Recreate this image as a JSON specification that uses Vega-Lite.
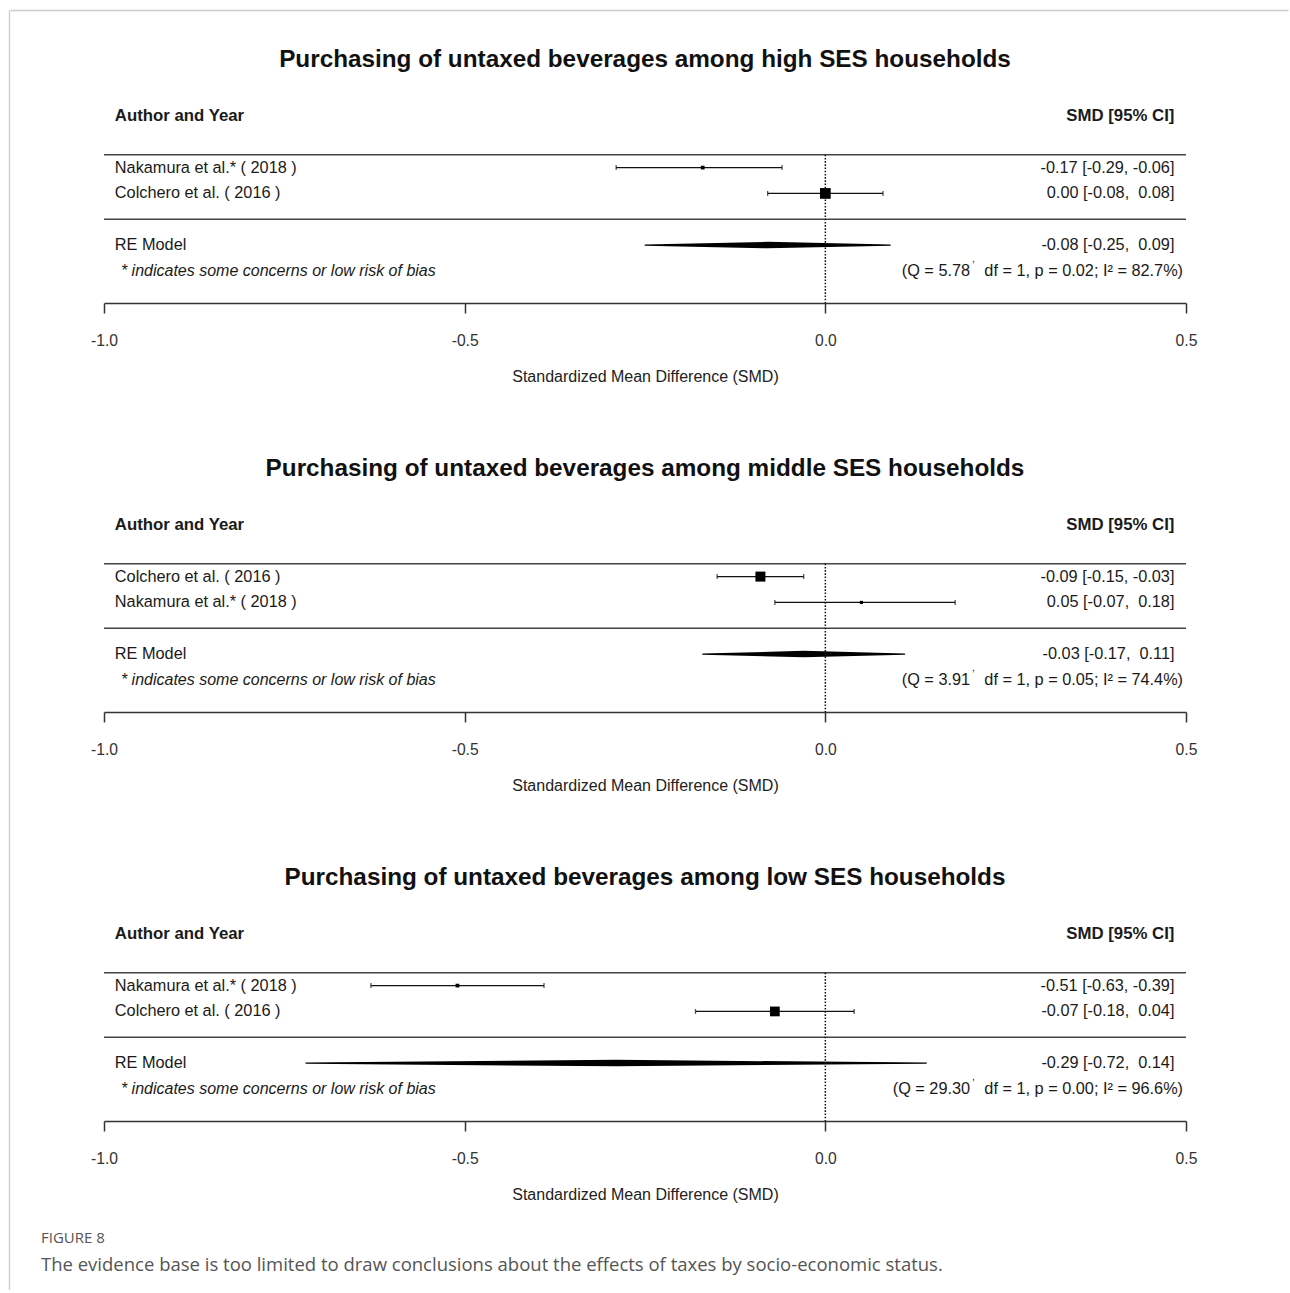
{
  "$schema": "https://vega.github.io/schema/vega-lite/v6.json",
  "padding": {"left": 9, "top": 10, "right": 0, "bottom": 0},
  "background": "white",
  "datasets": {
    "labels": [
      {"author_head": "Author and Year", "ci_head": "SMD [95% CI]", "note": "* indicates some concerns or low risk of bias"}
    ],
    "high": [
      {"kind": "study", "author": "Nakamura", "label": "Nakamura et al.* ( 2018 )", "smd": -0.17, "lo": -0.29, "hi": -0.06, "ci": "-0.17 [-0.29, -0.06]"},
      {"kind": "study", "author": "Colchero", "label": "Colchero et al. ( 2016 )", "smd": 0.00, "lo": -0.08, "hi": 0.08, "ci": "0.00 [-0.08,\u00a0 0.08]"},
      {"kind": "pooled", "author": "RE", "label": "RE Model", "smd": -0.08, "lo": -0.25, "hi": 0.09, "ci": "-0.08 [-0.25,\u00a0 0.09]", "q": "(Q = 5.78", "het": "df = 1, p = 0.02; I² = 82.7%)"}
    ],
    "middle": [
      {"kind": "study", "author": "Colchero", "label": "Colchero et al. ( 2016 )", "smd": -0.09, "lo": -0.15, "hi": -0.03, "ci": "-0.09 [-0.15, -0.03]"},
      {"kind": "study", "author": "Nakamura", "label": "Nakamura et al.* ( 2018 )", "smd": 0.05, "lo": -0.07, "hi": 0.18, "ci": "0.05 [-0.07,\u00a0 0.18]"},
      {"kind": "pooled", "author": "RE", "label": "RE Model", "smd": -0.03, "lo": -0.17, "hi": 0.11, "ci": "-0.03 [-0.17,\u00a0 0.11]", "q": "(Q = 3.91", "het": "df = 1, p = 0.05; I² = 74.4%)"}
    ],
    "low": [
      {"kind": "study", "author": "Nakamura", "label": "Nakamura et al.* ( 2018 )", "smd": -0.51, "lo": -0.63, "hi": -0.39, "ci": "-0.51 [-0.63, -0.39]"},
      {"kind": "study", "author": "Colchero", "label": "Colchero et al. ( 2016 )", "smd": -0.07, "lo": -0.18, "hi": 0.04, "ci": "-0.07 [-0.18,\u00a0 0.04]"},
      {"kind": "pooled", "author": "RE", "label": "RE Model", "smd": -0.29, "lo": -0.72, "hi": 0.14, "ci": "-0.29 [-0.72,\u00a0 0.14]", "q": "(Q = 29.30", "het": "df = 1, p = 0.00; I² = 96.6%)"}
    ]
  },
  "hconcat": [
    {
      "width": 1,
      "height": 1280,
      "data": {"name": "labels"},
      "mark": {"type": "point", "opacity": 0, "size": 0},
      "encoding": {
        "y": {"datum": 0, "type": "quantitative", "axis": {"orient": "left", "domainColor": "#cccccc", "domainWidth": 1.3, "ticks": false, "labels": false, "grid": false, "title": null}}
      }
    },
    {
      "spacing": 36,
      "vconcat": [
        {
          "width": 1100,
          "height": 1,
          "data": {"name": "labels"},
          "mark": {"type": "point", "opacity": 0, "size": 0},
          "encoding": {
            "x": {"datum": 0, "type": "quantitative", "scale": {"domain": [0, 1], "range": [-94, 1184]}, "axis": {"orient": "top", "domainColor": "#cccccc", "domainWidth": 1.3, "ticks": false, "labels": false, "grid": false, "title": null}}
          }
        },
        {
          "spacing": 71,
          "title": {
            "text": "FIGURE 8",
            "subtitle": "The evidence base is too limited to draw conclusions about the effects of taxes by socio-economic status.",
            "orient": "bottom", "anchor": "start", "frame": "bounds", "dx": 31, "offset": 28,
            "font": "Open Sans", "fontSize": 15, "fontWeight": "normal", "color": "#555555",
            "subtitleFont": "Open Sans", "subtitleFontSize": 18.5, "subtitleColor": "#555555", "subtitlePadding": 10
          },
          "vconcat": [
            {
              "width": 1082,
              "height": 200,
              "title": "Purchasing of untaxed beverages among high SES households",
              "data": {"name": "high"},
              "encoding": {
                "y": {
                  "field": "label", "type": "nominal", "title": null,
                  "scale": {"type": "band", "domain": ["header", "gap1", "Nakamura et al.* ( 2018 )", "Colchero et al. ( 2016 )", "gap2", "RE Model", "note"], "paddingInner": 0, "paddingOuter": 0.37, "align": 0, "round": false},
                  "axis": {"labels": false, "ticks": false, "domain": false, "grid": false, "minExtent": 94, "maxExtent": 94}
                }
              },
              "layer": [
                {"data": {"name": "labels"}, "mark": {"type": "rule", "stroke": "#444444", "strokeWidth": 1.6},
                 "encoding": {
                   "x": {"datum": -1, "type": "quantitative", "title": "Standardized Mean Difference (SMD)", "scale": {"domain": [-1, 0.5], "nice": false, "zero": false},
                         "axis": {"values": [-1, -0.5, 0, 0.5], "format": ".1f", "tickSize": 10, "tickColor": "#333333", "tickWidth": 1.5, "domainColor": "#333333", "domainWidth": 1.5, "labelFontSize": 15.7, "labelColor": "#333333", "labelPadding": 20, "labelFlush": false, "titleFontSize": 16, "titleFontWeight": "normal", "titleColor": "#222222", "titlePadding": 21, "grid": false}},
                   "x2": {"datum": 0.5},
                   "y": {"datum": "gap1", "type": "nominal", "bandPosition": 1, "title": null}}},
                {"data": {"name": "labels"}, "mark": {"type": "rule", "stroke": "#444444", "strokeWidth": 1.6},
                 "encoding": {"x": {"datum": -1, "type": "quantitative", "title": "Standardized Mean Difference (SMD)"}, "x2": {"datum": 0.5}, "y": {"datum": "gap2", "type": "nominal", "title": null}}},
                {"data": {"name": "labels"}, "mark": {"type": "rule", "stroke": "#111111", "strokeWidth": 1.5, "strokeDash": [1.6, 1.6]},
                 "encoding": {"x": {"datum": 0, "type": "quantitative", "title": "Standardized Mean Difference (SMD)"}, "y": {"datum": "gap1", "type": "nominal", "bandPosition": 1, "title": null}, "y2": {"value": "height"}}},
                {"data": {"name": "labels"}, "mark": {"type": "text", "align": "left", "fontWeight": "bold", "fontSize": 16.8},
                 "encoding": {"x": {"datum": -0.985, "type": "quantitative", "title": "Standardized Mean Difference (SMD)"}, "y": {"datum": "header", "type": "nominal", "title": null}, "text": {"field": "author_head"}}},
                {"data": {"name": "labels"}, "mark": {"type": "text", "align": "right", "fontWeight": "bold", "fontSize": 16.8},
                 "encoding": {"x": {"datum": 0.484, "type": "quantitative", "title": "Standardized Mean Difference (SMD)"}, "y": {"datum": "header", "type": "nominal", "title": null}, "text": {"field": "ci_head"}}},
                {"data": {"name": "labels"}, "mark": {"type": "text", "align": "left", "fontStyle": "italic", "fontSize": 16},
                 "encoding": {"x": {"datum": -0.9765, "type": "quantitative", "title": "Standardized Mean Difference (SMD)"}, "y": {"datum": "note", "type": "nominal", "title": null}, "text": {"field": "note"}}},
                {"transform": [{"filter": "datum.kind === 'study'"}], "mark": {"type": "rule", "stroke": "#111111", "strokeWidth": 1.3},
                 "encoding": {"x": {"field": "lo", "type": "quantitative", "title": "Standardized Mean Difference (SMD)"}, "x2": {"field": "hi"}}},
                {"transform": [{"filter": "datum.kind === 'study'"}, {"fold": ["lo", "hi"], "as": ["end", "value"]}], "mark": {"type": "tick", "orient": "vertical", "size": 5, "thickness": 1.3, "color": "#111111"},
                 "encoding": {"x": {"field": "value", "type": "quantitative", "title": "Standardized Mean Difference (SMD)"}}},
                {"transform": [{"filter": "datum.kind === 'study'"}], "mark": {"type": "point", "shape": "square", "filled": true, "color": "#000000", "opacity": 1},
                 "encoding": {"x": {"field": "smd", "type": "quantitative", "title": "Standardized Mean Difference (SMD)"}, "size": {"condition": {"test": "datum.author === 'Colchero'", "value": 115}, "value": 14}}},
                {"mark": {"type": "text", "align": "left"},
                 "encoding": {"x": {"datum": -0.985, "type": "quantitative", "title": "Standardized Mean Difference (SMD)"}, "text": {"field": "label"}}},
                {"mark": {"type": "text", "align": "right"},
                 "encoding": {"x": {"datum": 0.484, "type": "quantitative", "title": "Standardized Mean Difference (SMD)"}, "text": {"field": "ci"}}},
                {"transform": [{"filter": "datum.kind === 'pooled'"}, {"fold": ["lo", "smd", "hi"], "as": ["end", "value"]}], "mark": {"type": "trail", "color": "#000000"},
                 "encoding": {"x": {"field": "value", "type": "quantitative", "title": "Standardized Mean Difference (SMD)"}, "order": {"field": "value"}, "size": {"condition": {"test": "datum.end === 'smd'", "value": 6.5}, "value": 1.2}}},
                {"transform": [{"filter": "datum.kind === 'pooled'"}], "mark": {"type": "text", "align": "right"},
                 "encoding": {"x": {"datum": 0.2007, "type": "quantitative", "title": "Standardized Mean Difference (SMD)"}, "y": {"datum": "note", "type": "nominal", "title": null}, "text": {"field": "q"}}},
                {"transform": [{"filter": "datum.kind === 'pooled'"}], "mark": {"type": "text", "align": "left", "fontSize": 10, "dx": 2, "dy": -12},
                 "encoding": {"x": {"datum": 0.2007, "type": "quantitative", "title": "Standardized Mean Difference (SMD)"}, "y": {"datum": "note", "type": "nominal", "title": null}, "text": {"value": ","}}},
                {"transform": [{"filter": "datum.kind === 'pooled'"}], "mark": {"type": "text", "align": "right"},
                 "encoding": {"x": {"datum": 0.4959, "type": "quantitative", "title": "Standardized Mean Difference (SMD)"}, "y": {"datum": "note", "type": "nominal", "title": null}, "text": {"field": "het"}}}
              ]
            },
            {
              "width": 1082,
              "height": 200,
              "title": "Purchasing of untaxed beverages among middle SES households",
              "data": {"name": "middle"},
              "encoding": {
                "y": {
                  "field": "label", "type": "nominal", "title": null,
                  "scale": {"type": "band", "domain": ["header", "gap1", "Colchero et al. ( 2016 )", "Nakamura et al.* ( 2018 )", "gap2", "RE Model", "note"], "paddingInner": 0, "paddingOuter": 0.37, "align": 0, "round": false},
                  "axis": {"labels": false, "ticks": false, "domain": false, "grid": false, "minExtent": 94, "maxExtent": 94}
                }
              },
              "layer": [
                {"data": {"name": "labels"}, "mark": {"type": "rule", "stroke": "#444444", "strokeWidth": 1.6},
                 "encoding": {
                   "x": {"datum": -1, "type": "quantitative", "title": "Standardized Mean Difference (SMD)", "scale": {"domain": [-1, 0.5], "nice": false, "zero": false},
                         "axis": {"values": [-1, -0.5, 0, 0.5], "format": ".1f", "tickSize": 10, "tickColor": "#333333", "tickWidth": 1.5, "domainColor": "#333333", "domainWidth": 1.5, "labelFontSize": 15.7, "labelColor": "#333333", "labelPadding": 20, "labelFlush": false, "titleFontSize": 16, "titleFontWeight": "normal", "titleColor": "#222222", "titlePadding": 21, "grid": false}},
                   "x2": {"datum": 0.5},
                   "y": {"datum": "gap1", "type": "nominal", "bandPosition": 1, "title": null}}},
                {"data": {"name": "labels"}, "mark": {"type": "rule", "stroke": "#444444", "strokeWidth": 1.6},
                 "encoding": {"x": {"datum": -1, "type": "quantitative", "title": "Standardized Mean Difference (SMD)"}, "x2": {"datum": 0.5}, "y": {"datum": "gap2", "type": "nominal", "title": null}}},
                {"data": {"name": "labels"}, "mark": {"type": "rule", "stroke": "#111111", "strokeWidth": 1.5, "strokeDash": [1.6, 1.6]},
                 "encoding": {"x": {"datum": 0, "type": "quantitative", "title": "Standardized Mean Difference (SMD)"}, "y": {"datum": "gap1", "type": "nominal", "bandPosition": 1, "title": null}, "y2": {"value": "height"}}},
                {"data": {"name": "labels"}, "mark": {"type": "text", "align": "left", "fontWeight": "bold", "fontSize": 16.8},
                 "encoding": {"x": {"datum": -0.985, "type": "quantitative", "title": "Standardized Mean Difference (SMD)"}, "y": {"datum": "header", "type": "nominal", "title": null}, "text": {"field": "author_head"}}},
                {"data": {"name": "labels"}, "mark": {"type": "text", "align": "right", "fontWeight": "bold", "fontSize": 16.8},
                 "encoding": {"x": {"datum": 0.484, "type": "quantitative", "title": "Standardized Mean Difference (SMD)"}, "y": {"datum": "header", "type": "nominal", "title": null}, "text": {"field": "ci_head"}}},
                {"data": {"name": "labels"}, "mark": {"type": "text", "align": "left", "fontStyle": "italic", "fontSize": 16},
                 "encoding": {"x": {"datum": -0.9765, "type": "quantitative", "title": "Standardized Mean Difference (SMD)"}, "y": {"datum": "note", "type": "nominal", "title": null}, "text": {"field": "note"}}},
                {"transform": [{"filter": "datum.kind === 'study'"}], "mark": {"type": "rule", "stroke": "#111111", "strokeWidth": 1.3},
                 "encoding": {"x": {"field": "lo", "type": "quantitative", "title": "Standardized Mean Difference (SMD)"}, "x2": {"field": "hi"}}},
                {"transform": [{"filter": "datum.kind === 'study'"}, {"fold": ["lo", "hi"], "as": ["end", "value"]}], "mark": {"type": "tick", "orient": "vertical", "size": 5, "thickness": 1.3, "color": "#111111"},
                 "encoding": {"x": {"field": "value", "type": "quantitative", "title": "Standardized Mean Difference (SMD)"}}},
                {"transform": [{"filter": "datum.kind === 'study'"}], "mark": {"type": "point", "shape": "square", "filled": true, "color": "#000000", "opacity": 1},
                 "encoding": {"x": {"field": "smd", "type": "quantitative", "title": "Standardized Mean Difference (SMD)"}, "size": {"condition": {"test": "datum.author === 'Colchero'", "value": 100}, "value": 10}}},
                {"mark": {"type": "text", "align": "left"},
                 "encoding": {"x": {"datum": -0.985, "type": "quantitative", "title": "Standardized Mean Difference (SMD)"}, "text": {"field": "label"}}},
                {"mark": {"type": "text", "align": "right"},
                 "encoding": {"x": {"datum": 0.484, "type": "quantitative", "title": "Standardized Mean Difference (SMD)"}, "text": {"field": "ci"}}},
                {"transform": [{"filter": "datum.kind === 'pooled'"}, {"fold": ["lo", "smd", "hi"], "as": ["end", "value"]}], "mark": {"type": "trail", "color": "#000000"},
                 "encoding": {"x": {"field": "value", "type": "quantitative", "title": "Standardized Mean Difference (SMD)"}, "order": {"field": "value"}, "size": {"condition": {"test": "datum.end === 'smd'", "value": 6.5}, "value": 1.2}}},
                {"transform": [{"filter": "datum.kind === 'pooled'"}], "mark": {"type": "text", "align": "right"},
                 "encoding": {"x": {"datum": 0.2007, "type": "quantitative", "title": "Standardized Mean Difference (SMD)"}, "y": {"datum": "note", "type": "nominal", "title": null}, "text": {"field": "q"}}},
                {"transform": [{"filter": "datum.kind === 'pooled'"}], "mark": {"type": "text", "align": "left", "fontSize": 10, "dx": 2, "dy": -12},
                 "encoding": {"x": {"datum": 0.2007, "type": "quantitative", "title": "Standardized Mean Difference (SMD)"}, "y": {"datum": "note", "type": "nominal", "title": null}, "text": {"value": ","}}},
                {"transform": [{"filter": "datum.kind === 'pooled'"}], "mark": {"type": "text", "align": "right"},
                 "encoding": {"x": {"datum": 0.4959, "type": "quantitative", "title": "Standardized Mean Difference (SMD)"}, "y": {"datum": "note", "type": "nominal", "title": null}, "text": {"field": "het"}}}
              ]
            },
            {
              "width": 1082,
              "height": 200,
              "title": "Purchasing of untaxed beverages among low SES households",
              "data": {"name": "low"},
              "encoding": {
                "y": {
                  "field": "label", "type": "nominal", "title": null,
                  "scale": {"type": "band", "domain": ["header", "gap1", "Nakamura et al.* ( 2018 )", "Colchero et al. ( 2016 )", "gap2", "RE Model", "note"], "paddingInner": 0, "paddingOuter": 0.37, "align": 0, "round": false},
                  "axis": {"labels": false, "ticks": false, "domain": false, "grid": false, "minExtent": 94, "maxExtent": 94}
                }
              },
              "layer": [
                {"data": {"name": "labels"}, "mark": {"type": "rule", "stroke": "#444444", "strokeWidth": 1.6},
                 "encoding": {
                   "x": {"datum": -1, "type": "quantitative", "title": "Standardized Mean Difference (SMD)", "scale": {"domain": [-1, 0.5], "nice": false, "zero": false},
                         "axis": {"values": [-1, -0.5, 0, 0.5], "format": ".1f", "tickSize": 10, "tickColor": "#333333", "tickWidth": 1.5, "domainColor": "#333333", "domainWidth": 1.5, "labelFontSize": 15.7, "labelColor": "#333333", "labelPadding": 20, "labelFlush": false, "titleFontSize": 16, "titleFontWeight": "normal", "titleColor": "#222222", "titlePadding": 21, "grid": false}},
                   "x2": {"datum": 0.5},
                   "y": {"datum": "gap1", "type": "nominal", "bandPosition": 1, "title": null}}},
                {"data": {"name": "labels"}, "mark": {"type": "rule", "stroke": "#444444", "strokeWidth": 1.6},
                 "encoding": {"x": {"datum": -1, "type": "quantitative", "title": "Standardized Mean Difference (SMD)"}, "x2": {"datum": 0.5}, "y": {"datum": "gap2", "type": "nominal", "title": null}}},
                {"data": {"name": "labels"}, "mark": {"type": "rule", "stroke": "#111111", "strokeWidth": 1.5, "strokeDash": [1.6, 1.6]},
                 "encoding": {"x": {"datum": 0, "type": "quantitative", "title": "Standardized Mean Difference (SMD)"}, "y": {"datum": "gap1", "type": "nominal", "bandPosition": 1, "title": null}, "y2": {"value": "height"}}},
                {"data": {"name": "labels"}, "mark": {"type": "text", "align": "left", "fontWeight": "bold", "fontSize": 16.8},
                 "encoding": {"x": {"datum": -0.985, "type": "quantitative", "title": "Standardized Mean Difference (SMD)"}, "y": {"datum": "header", "type": "nominal", "title": null}, "text": {"field": "author_head"}}},
                {"data": {"name": "labels"}, "mark": {"type": "text", "align": "right", "fontWeight": "bold", "fontSize": 16.8},
                 "encoding": {"x": {"datum": 0.484, "type": "quantitative", "title": "Standardized Mean Difference (SMD)"}, "y": {"datum": "header", "type": "nominal", "title": null}, "text": {"field": "ci_head"}}},
                {"data": {"name": "labels"}, "mark": {"type": "text", "align": "left", "fontStyle": "italic", "fontSize": 16},
                 "encoding": {"x": {"datum": -0.9765, "type": "quantitative", "title": "Standardized Mean Difference (SMD)"}, "y": {"datum": "note", "type": "nominal", "title": null}, "text": {"field": "note"}}},
                {"transform": [{"filter": "datum.kind === 'study'"}], "mark": {"type": "rule", "stroke": "#111111", "strokeWidth": 1.3},
                 "encoding": {"x": {"field": "lo", "type": "quantitative", "title": "Standardized Mean Difference (SMD)"}, "x2": {"field": "hi"}}},
                {"transform": [{"filter": "datum.kind === 'study'"}, {"fold": ["lo", "hi"], "as": ["end", "value"]}], "mark": {"type": "tick", "orient": "vertical", "size": 5, "thickness": 1.3, "color": "#111111"},
                 "encoding": {"x": {"field": "value", "type": "quantitative", "title": "Standardized Mean Difference (SMD)"}}},
                {"transform": [{"filter": "datum.kind === 'study'"}], "mark": {"type": "point", "shape": "square", "filled": true, "color": "#000000", "opacity": 1},
                 "encoding": {"x": {"field": "smd", "type": "quantitative", "title": "Standardized Mean Difference (SMD)"}, "size": {"condition": {"test": "datum.author === 'Colchero'", "value": 95}, "value": 14}}},
                {"mark": {"type": "text", "align": "left"},
                 "encoding": {"x": {"datum": -0.985, "type": "quantitative", "title": "Standardized Mean Difference (SMD)"}, "text": {"field": "label"}}},
                {"mark": {"type": "text", "align": "right"},
                 "encoding": {"x": {"datum": 0.484, "type": "quantitative", "title": "Standardized Mean Difference (SMD)"}, "text": {"field": "ci"}}},
                {"transform": [{"filter": "datum.kind === 'pooled'"}, {"fold": ["lo", "smd", "hi"], "as": ["end", "value"]}], "mark": {"type": "trail", "color": "#000000"},
                 "encoding": {"x": {"field": "value", "type": "quantitative", "title": "Standardized Mean Difference (SMD)"}, "order": {"field": "value"}, "size": {"condition": {"test": "datum.end === 'smd'", "value": 6.5}, "value": 1.2}}},
                {"transform": [{"filter": "datum.kind === 'pooled'"}], "mark": {"type": "text", "align": "right"},
                 "encoding": {"x": {"datum": 0.2007, "type": "quantitative", "title": "Standardized Mean Difference (SMD)"}, "y": {"datum": "note", "type": "nominal", "title": null}, "text": {"field": "q"}}},
                {"transform": [{"filter": "datum.kind === 'pooled'"}], "mark": {"type": "text", "align": "left", "fontSize": 10, "dx": 2, "dy": -12},
                 "encoding": {"x": {"datum": 0.2007, "type": "quantitative", "title": "Standardized Mean Difference (SMD)"}, "y": {"datum": "note", "type": "nominal", "title": null}, "text": {"value": ","}}},
                {"transform": [{"filter": "datum.kind === 'pooled'"}], "mark": {"type": "text", "align": "right"},
                 "encoding": {"x": {"datum": 0.4959, "type": "quantitative", "title": "Standardized Mean Difference (SMD)"}, "y": {"datum": "note", "type": "nominal", "title": null}, "text": {"field": "het"}}}
              ]
            }
          ]
        }
      ]
    }
  ],
  "spacing": 0,
  "config": {
    "view": {"stroke": null},
    "font": "Liberation Sans",
    "locale": {"number": {"decimal": ".", "thousands": ",", "grouping": [3], "currency": ["$", ""], "minus": "-"}},
    "title": {"font": "Liberation Sans", "fontSize": 24.3, "fontWeight": "bold", "color": "#111111", "anchor": "middle", "frame": "group", "offset": 31},
    "text": {"font": "Liberation Sans", "fontSize": 16.3, "color": "#1a1a1a"}
  }
}
